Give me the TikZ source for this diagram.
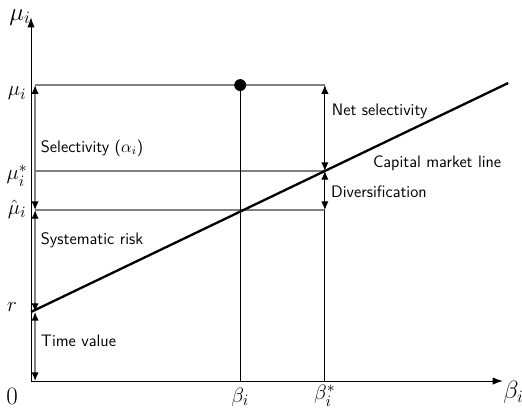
\documentclass[tikz,border=0pt]{standalone}
\usepackage{amsmath}
\usepackage{amssymb}
\usepackage{tikz}
\usepackage{xcolor}
\usetikzlibrary{arrows.meta, positioning, calc}

\tikzset{
    txt/.style={font=\fontsize{11.5}{14}\selectfont\sffamily, anchor=west, inner sep=1pt},
    mlbl/.style={font=\fontsize{15}{18}\selectfont, inner sep=1pt},
    lvl/.style={gray, line width=0.9pt},
    span/.style={{Latex[length=6pt,width=5pt,black]}-{Latex[length=6pt,width=5pt,black]}},
}

\begin{document}
\begin{tikzpicture}
    \useasboundingbox (-0.754,-0.681) rectangle (11.946,9.27);

    % Levels
    \coordinate (O) at (0,0);
    \coordinate (r) at (0.1,1.68);
    \coordinate (muhat) at (0.1,4.16);
    \coordinate (mustar) at (0.1,5.11);
    \coordinate (mu) at (0.1,7.20);
    \coordinate (b) at (5.09,0);
    \coordinate (bstar) at (7.15,0);

    % Axes
    \draw[-{Latex[length=7pt,width=5pt]}, line width=0.6pt] (O) -- (0,8.85) coordinate (ytip)
        node[left, inner sep=0pt, font=\LARGE] (ylab) {$\mu_i$};
    \draw[-{Latex[length=7pt,width=5pt]}, line width=0.6pt] (O) -- (11.48,0) coordinate (xtip)
        node[anchor=north west, inner sep=0pt, font=\LARGE] (xlab) {$\beta_i$};

    % Horizontal levels (grey)
    \draw[lvl] (mu) -- (mu -| bstar);
    \draw[lvl] (mustar) -- (mustar -| bstar);
    \draw[lvl] (muhat) -- (muhat -| bstar);

    % Decomposition on the left
    \draw[lvl, span] (0.1,0) -- (r);
    \draw[lvl, span] (r) -- (muhat);
    \draw[lvl, span] (muhat) -- (mu);

    % Decomposition on the right
    \draw[line width=0.6pt, span] (mu -| bstar) -- (mustar -| bstar);
    \draw[line width=0.6pt, span] (mustar -| bstar) -- (muhat -| bstar);
    \draw[line width=0.6pt] (muhat -| bstar) -- (bstar);

    % Portfolio
    \draw[line width=0.6pt] (b) -- (mu -| b);
    \fill (mu -| b) circle (0.145) coordinate (P);

    % Capital market line
    \draw[line width=1.6pt] (0,1.68) -- (11.61,7.25);

    % Axis labels
    \node[mlbl] (lmu) at (-0.34,7.0) {$\mu_i$};
    \node[mlbl] (lmustar) at (-0.34,5.0) {$\mu_i^*$};
    \node[mlbl] (lmuhat) at (-0.34,4.18) {$\hat{\mu}_i$};
    \node[mlbl] (lr) at (-0.46,1.8) {$r$};
    \node[font=\LARGE] (lzero) at (-0.46,-0.38) {$0$};
    \node[mlbl] (lb) at (5.09,-0.40) {$\beta_i$};
    \node[mlbl] (lbstar) at (7.15,-0.35) {$\beta_i^*$};

    % Texts
    \node[txt] (sel) at (0.2,5.67) {Selectivity ($\alpha_i$)};
    \node[txt] (sys) at (0.2,3.43) {Systematic risk};
    \node[txt] (tv) at (0.2,0.97) {Time value};
    \node[txt] (net) at (7.28,6.55) {Net selectivity};
    \node[txt] (div) at (7.26,4.60) {Diversification};
    \node[txt] (cml) at (8.28,5.30) {Capital market line};

\end{tikzpicture}
\end{document}
